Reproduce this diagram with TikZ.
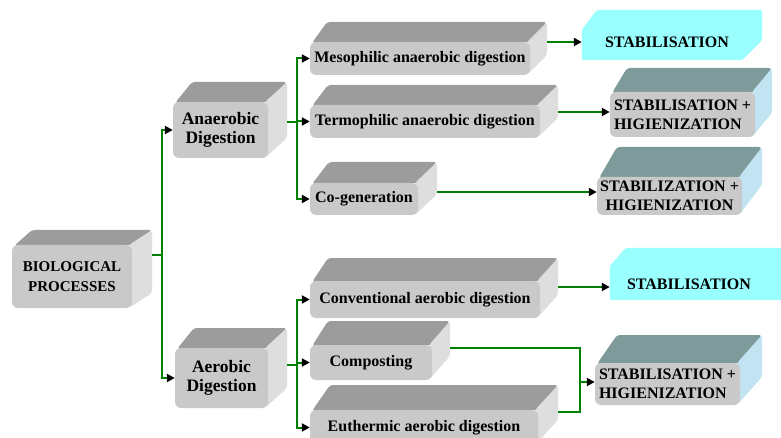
\documentclass[tikz,border=0pt]{standalone}
\usepackage{fontspec}
\setmainfont{Liberation Serif}
\usetikzlibrary{arrows.meta,calc}
\definecolor{frontgray}{HTML}{C9C9C9}
\definecolor{topgray}{HTML}{9C9C9C}
\definecolor{sidegray}{HTML}{DEDEDE}
\definecolor{tealtop}{HTML}{7E9A9A}
\definecolor{bluesid}{HTML}{C2E4F2}
\definecolor{cyanbox}{HTML}{99FFFF}
\definecolor{linegreen}{HTML}{008000}
\colorlet{ctop}{topgray}
\colorlet{cside}{sidegray}
\tikzset{
  face/.style={rounded corners=3pt},
  frontface/.style={fill=frontgray, rounded corners=6pt, inner sep=0pt, align=center,
    font=\bfseries\fontsize{16}{19}\selectfont},
  bigtext/.style={font=\bfseries\fontsize{17.5}{19}\selectfont},
  midtext/.style={font=\bfseries\fontsize{15}{20}\selectfont},
  lbl/.style={font=\bfseries\fontsize{16}{19}\selectfont, inner sep=0pt},
  conn/.style={draw=linegreen, line width=2pt},
  arr/.style={conn, -{Triangle[length=8pt,width=8pt,black]}},
}
% #1 name, #2 x1, #3 y1, #4 x2, #5 y2, #6 dx, #7 dy(up), #8 options, #9 text
\newcommand\cubebox[9]{%
  \fill[ctop, face] ({#2+2},{#3+1}) -- ({#2+#6},{#3-#7}) -- ({#4+#6},{#3-#7}) -- ({#4},{#3}) -- cycle;
  \fill[cside, face] ({#4-3},{#3}) -- ({#4+#6},{#3-#7}) -- ({#4+#6},{#5-#7}) -- ({#4-3},{#5}) -- cycle;
  \node[frontface, minimum width={(#4-#2)*1pt}, minimum height={(#5-#3)*1pt}, #8] (#1)
    at ({(#2+#4)/2},{(#3+#5)/2}) {#9};
}
\begin{document}
\begin{tikzpicture}[x=1pt, y=-1pt]
\useasboundingbox (0,0) rectangle (781,438);
\clip (0,0) rectangle (781,438);

% left column
\cubebox{bio}{12}{245}{132}{308}{20}{15}{midtext}{BIOLOGICAL\\PROCESSES}
\cubebox{anaer}{173}{102}{268}{158}{19}{20}{bigtext}{Anaerobic\\Digestion}
\cubebox{aer}{175}{348}{268}{408}{19}{20}{bigtext}{Aerobic\\Digestion}

% middle column
\cubebox{meso}{310}{42}{530}{75}{17}{20}{}{Mesophilic anaerobic digestion}
\cubebox{term}{310}{105}{540}{138}{18}{20}{}{Termophilic anaerobic digestion}
\cubebox{cogen}{310}{183}{418}{215}{19}{21}{}{Co-generation}
\cubebox{conv}{310}{281}{540}{318}{18}{23}{}{Conventional aerobic digestion}
\cubebox{comp}{310}{345}{432}{380}{18}{24}{}{Composting}
\cubebox{euth}{310}{410}{538}{445}{20}{25}{}{Euthermic aerobic digestion}

% right column
\node[minimum width=180pt, minimum height=50pt, inner sep=0pt] (stab1) at (672,35) {};
\fill[cyanbox, rounded corners=2pt] (stab1.south west) -- ($(stab1.north west)+(0,20)$)
  -- ($(stab1.north west)+(15,0)$) -- (stab1.north east) -- ($(stab1.south east)+(0,-20)$)
  -- ($(stab1.south east)+(-20,0)$) -- cycle;
\node[lbl] (stab1t) at (667,42) {STABILISATION};

\node[minimum width=180pt, minimum height=52pt, inner sep=0pt] (stab2) at (700,274) {};
\fill[cyanbox, rounded corners=2pt] (stab2.south west) -- ($(stab2.north west)+(0,18)$)
  -- ($(stab2.north west)+(16,0)$) -- (stab2.north east) -- (stab2.south east) -- cycle;
\node[lbl] (stab2t) at (689,284) {STABILISATION};

\colorlet{ctop}{tealtop}
\colorlet{cside}{bluesid}
\cubebox{sh1}{610}{92}{755}{137}{17}{24}{align=left}{STABILISATION +\\HIGIENIZATION}
\cubebox{sh2}{597}{177}{742}{215}{20}{30}{}{STABILIZATION +\\HIGIENIZATION}
\cubebox{sh3}{595}{363}{740}{405}{22}{28}{align=left}{STABILISATION +\\HIGIENIZATION}

% exit points and junctions
\coordinate (bio-o) at (152,255);
\coordinate (jb) at (162,255);
\coordinate (anaer-o) at (287,122);
\coordinate (ja) at (297,122);
\coordinate (aer-o) at (287,365);
\coordinate (jr) at (297,365);
\coordinate (meso-o) at (547,42);
\coordinate (term-o) at (558,112);
\coordinate (cogen-o) at (437,192);
\coordinate (conv-o) at (558,287);
\coordinate (comp-o) at (450,348);
\coordinate (euth-o) at (558,412);
\coordinate (jc) at (580,382);

% connectors
\draw[conn] (bio-o) -- (jb);
\draw[arr] (jb) |- (anaer.west);
\draw[arr] (jb) |- (aer.west);

\draw[conn] (anaer-o) -- (ja);
\draw[arr] (ja) |- (meso.west);
\draw[arr] (ja) |- (term.west);
\draw[arr] (ja) |- (cogen.west);

\draw[conn] (aer-o) -- (jr);
\draw[arr] (jr) |- (conv.west);
\draw[arr] (jr) |- (comp.west);
\draw[arr] (jr) |- (euth.west);

\draw[arr] (meso-o) -- (meso-o -| stab1.west);
\draw[arr] (term-o) -- (term-o -| sh1.west);
\draw[arr] (cogen-o) -- (cogen-o -| sh2.west);
\draw[arr] (conv-o) -- (conv-o -| stab2.west);
\draw[conn] (comp-o) -| (jc);
\draw[conn] (euth-o) -| (jc);
\draw[arr] (jc) -- (jc -| sh3.west);
\end{tikzpicture}
\end{document}
